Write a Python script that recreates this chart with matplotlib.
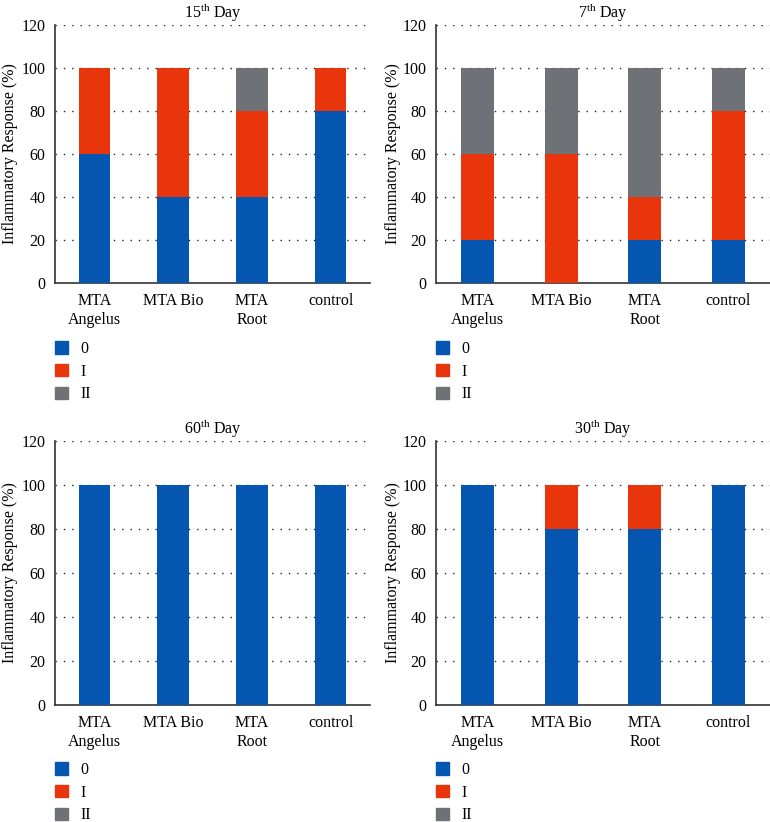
import matplotlib
matplotlib.use("Agg")
import matplotlib.pyplot as plt
from matplotlib.patches import Patch
import numpy as np

plt.rcParams['font.family'] = ['Liberation Serif', 'DejaVu Serif']
plt.rcParams['mathtext.fontset'] = 'custom'
plt.rcParams['mathtext.rm'] = 'Liberation Serif'
plt.rcParams['font.size'] = 11

groups = ['MTA\nAngelus', 'MTA Bio', 'MTA\nRoot', 'control']
grades = ['0', 'I', 'II']
colors = ['#0456B0', '#E8350B', '#6E7175']

# inflammatory response grade (%) per group, stacked 0 / I / II
day15 = {'0': [60, 40, 40, 80], 'I': [40, 60, 40, 20], 'II': [0, 0, 20, 0]}
day7 = {'0': [20, 0, 20, 20], 'I': [40, 60, 20, 60], 'II': [40, 40, 60, 20]}
day60 = {'0': [100, 100, 100, 100], 'I': [0, 0, 0, 0], 'II': [0, 0, 0, 0]}
day30 = {'0': [100, 80, 80, 100], 'I': [0, 20, 20, 0], 'II': [0, 0, 0, 0]}

W, H = 770, 822
fig = plt.figure(figsize=(W / 100, H / 100), dpi=100)

# (title, data, left px, top px, right px, bottom px, legend top px, ylabel x px)
panels = [
    ('15$^{\\mathrm{th}}$ Day', day15, 55, 25, 370, 283, 341, 10),
    ('7$^{\\mathrm{th}}$ Day', day7, 436, 25, 770, 283, 341, 393),
    ('60$^{\\mathrm{th}}$ Day', day60, 55, 441, 370, 705, 762, 10),
    ('30$^{\\mathrm{th}}$ Day', day30, 436, 441, 770, 705, 762, 393),
]

x = np.arange(len(groups))
for title, data, l, t, r, b, lt, yl in panels:
    ax = fig.add_axes([l / W, 1 - b / H, (r - l) / W, (b - t) / H])
    bottom = np.zeros(len(groups))
    for g, c in zip(grades, colors):
        vals = np.array(data[g], dtype=float)
        ax.bar(x, vals, 0.4, bottom=bottom, color=c, zorder=3)
        bottom += vals
    ax.set_xlim(-0.5, 3.5)
    ax.set_ylim(0, 120)
    ax.set_yticks(range(0, 121, 20))
    ax.set_xticks(x)
    ax.set_xticklabels(groups, linespacing=1.3)
    ax.tick_params(length=0, pad=7, labelsize=11.5)
    ax.yaxis.grid(True, color='#222222', linestyle=(0, (1, 5)), linewidth=1.0, zorder=0)
    for s in ['top', 'right']:
        ax.spines[s].set_visible(False)
    for s in ['left', 'bottom']:
        ax.spines[s].set_color('#333333')
        ax.spines[s].set_linewidth(1.2)
    ax.set_ylabel('Inflammatory Response (%)', fontsize=11.5)
    ax.yaxis.set_label_coords((yl - l) / (r - l), 0.5)
    ax.yaxis.label.set_va('center')
    ax.set_title(title, fontsize=11.5, pad=5)

    handles = [Patch(color=c) for c in colors]
    fig.legend(handles, grades, loc='upper left',
               bbox_to_anchor=(l / W, 1 - lt / H), frameon=False,
               fontsize=11.5, handlelength=0.8, handleheight=0.8,
               handletextpad=0.8, labelspacing=0.42, borderpad=0,
               borderaxespad=0)

fig.savefig('out.png', dpi=100, facecolor='white')
